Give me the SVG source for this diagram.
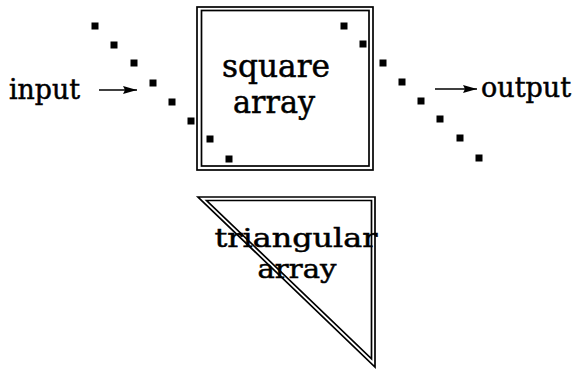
<svg xmlns="http://www.w3.org/2000/svg" width="574" height="370" viewBox="0 0 574 370">
<defs>
<style>
.t{font-family:"DejaVu Serif","Liberation Serif",serif;fill:#000;stroke:#000;stroke-width:0.5;}
.ln{fill:none;stroke:#000;stroke-width:1.7;}
.d{fill:#000;}
</style>
<marker id="ah" viewBox="0 0 14 8" refX="14" refY="4" markerWidth="14" markerHeight="8" markerUnits="userSpaceOnUse" orient="auto">
<path d="M0,0 L14,4 L0,8 L2,4 Z" fill="#000"/>
</marker>
<rect id="dot" x="-3.5" y="-3.5" width="7" height="7"/>
</defs>
<rect width="574" height="370" fill="#fff"/>
<g id="input">
<text class="t" x="9" y="99" font-size="27" textLength="71" lengthAdjust="spacingAndGlyphs">input</text>
</g>
<g id="output">
<text class="t" x="481" y="97" font-size="27" textLength="90" lengthAdjust="spacingAndGlyphs">output</text>
</g>
<g id="square-array">
<rect class="ln" x="197" y="7" width="176" height="163" stroke-width="2"/>
<rect class="ln" x="201.5" y="10.5" width="167.5" height="155.5" stroke-width="1.3"/>
<text class="t" x="276" y="77" font-size="31" text-anchor="middle" textLength="108" lengthAdjust="spacingAndGlyphs">square</text>
<text class="t" x="274" y="113" font-size="31" text-anchor="middle" textLength="82" lengthAdjust="spacingAndGlyphs">array</text>
</g>
<g id="triangular-array">
<path class="ln" d="M198,197 L375,197 L375,367 Z" stroke-width="1.8"/>
<path class="ln" d="M206.6,200.5 L371.5,200.5 L371.5,358.8 Z" stroke-width="1.4"/>
<text class="t" x="296" y="247" font-size="26" text-anchor="middle" textLength="163" lengthAdjust="spacingAndGlyphs">triangular</text>
<text class="t" x="297" y="278" font-size="26" text-anchor="middle" textLength="79" lengthAdjust="spacingAndGlyphs">array</text>
</g>
<g id="input-stream" class="d">
<use href="#dot" x="95" y="26"/>
<use href="#dot" x="114" y="45"/>
<use href="#dot" x="134" y="63"/>
<use href="#dot" x="153" y="83"/>
<use href="#dot" x="172" y="102"/>
<use href="#dot" x="191" y="121"/>
<use href="#dot" x="210" y="139"/>
<use href="#dot" x="229" y="159"/>
</g>
<g id="output-stream" class="d">
<use href="#dot" x="344" y="26"/>
<use href="#dot" x="363" y="44"/>
<use href="#dot" x="383" y="63"/>
<use href="#dot" x="402" y="82"/>
<use href="#dot" x="421" y="101"/>
<use href="#dot" x="440" y="119"/>
<use href="#dot" x="460" y="138"/>
<use href="#dot" x="479" y="158"/>
</g>
<g id="connectors">
<line class="ln" x1="99" y1="90" x2="137" y2="90" stroke-width="2" marker-end="url(#ah)"/>
<line class="ln" x1="435" y1="89" x2="477" y2="89" stroke-width="2" marker-end="url(#ah)"/>
</g>
</svg>
